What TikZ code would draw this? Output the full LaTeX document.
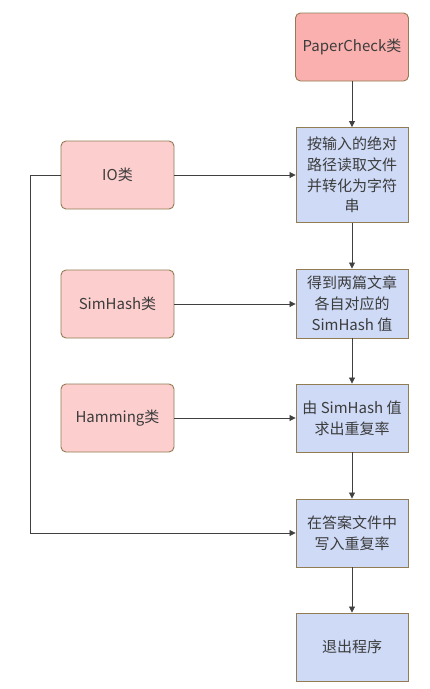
\documentclass[tikz,border=0pt]{standalone}
\usepackage{fontspec}
\setmainfont{Noto Sans CJK SC}
\usepackage{xcolor}
\usepackage{tikz}
\usetikzlibrary{arrows.meta}
\definecolor{clsred}{RGB}{250,176,174}
\definecolor{clspink}{RGB}{252,206,206}
\definecolor{stepblue}{RGB}{206,218,246}
\definecolor{edgebrown}{RGB}{146,124,84}
\definecolor{linegray}{RGB}{64,64,64}
\definecolor{textgray}{RGB}{60,60,60}
\tikzset{
  cls/.style={rounded corners=5pt, draw=edgebrown, line width=0.9pt, fill=clspink, align=center, minimum width=113pt, minimum height=68pt, inner sep=0pt, text=textgray, font=\fontsize{15}{20}\selectfont},
  stepbox/.style={draw=edgebrown, line width=0.9pt, fill=stepblue, align=center, minimum width=112pt, minimum height=68pt, inner sep=0pt, text=textgray, font=\fontsize{15}{20.7}\selectfont},
  arr/.style={-{Triangle[length=6pt,width=6pt]}, line width=0.8pt, draw=linegray},
}

\begin{document}
\begin{tikzpicture}[x=1pt,y=-1pt]
    \useasboundingbox[fill=white] (0,0) rectangle (430,689);
    \node[cls, fill=clsred] (pc) at (352,47) {PaperCheck类};
    \node[stepbox, minimum height=95pt] (read) at (352,175) {按输入的绝对\\路径读取文件\\并转化为字符\\串};
    \node[cls] (io) at (117.5,175) {IO类};
    \node[stepbox, minimum height=69pt] (hash) at (352,303.5) {得到两篇文章\\各自对应的\\SimHash 值};
    \node[cls] (shc) at (117.5,304) {SimHash类};
    \node[stepbox] (ham) at (352,418) {由 SimHash 值\\求出重复率};
    \node[cls] (hmc) at (117.5,418) {Hamming类};
    \node[stepbox] (write) at (352,533) {在答案文件中\\写入重复率};
    \node[stepbox] (exit) at (352,647) {退出程序};
    \coordinate (bend) at (30,175);
    \draw[arr] (pc) -- (read);
    \draw[arr] (io) -- (read);
    \draw[arr] (shc) -- (shc -| hash.west);
    \draw[arr] (hmc) -- (hmc -| ham.west);
    \draw[arr] (read) -- (hash);
    \draw[arr] (hash) -- (ham);
    \draw[arr] (ham) -- (write);
    \draw[arr] (write) -- (exit);
    \draw[arr] (io.west) -- (bend) |- (write.west);
  \end{tikzpicture}
\end{document}
